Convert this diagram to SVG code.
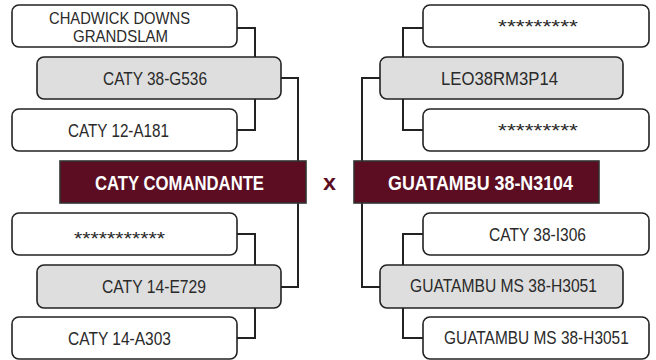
<svg xmlns="http://www.w3.org/2000/svg" width="656" height="360" viewBox="0 0 656 360">
<style>
.w{fill:#ffffff;stroke:#222;stroke-width:1.6}
.g{fill:#dedede;stroke:#222;stroke-width:1.6}
.m{fill:#5c0d22;stroke:#333;stroke-width:1.6}
.t{font-family:"Liberation Sans",Arial,sans-serif;font-size:18px;fill:#2a2a2a}
.s{font-size:17px}
.b{font-family:"Liberation Sans",Arial,sans-serif;font-size:21px;font-weight:bold;fill:#ffffff}
.x{font-family:"Liberation Sans",Arial,sans-serif;font-size:22px;font-weight:bold;fill:#5c0d22}
.c{fill:none;stroke:#222;stroke-width:2}
</style>
<g id="connectors">
<path class="c" d="M237,28 H255 V57 M237,130 H255 V99 M281,78 H298 V161"/>
<path class="c" d="M237,234 H255 V265 M237,338 H255 V308 M281,287 H298 V203"/>
<path class="c" d="M423,28 H403 V57 M423,130 H403 V99 M380,78 H362 V161"/>
<path class="c" d="M423,234 H403 V265 M423,338 H403 V308 M380,287 H362 V203"/>
</g>
<g id="n-chadwick"><rect class="w" x="12" y="5" width="225" height="42" rx="7"/>
<text class="t s" x="49" y="24" textLength="141" lengthAdjust="spacingAndGlyphs">CHADWICK DOWNS</text>
<text class="t s" x="73" y="42" textLength="95" lengthAdjust="spacingAndGlyphs">GRANDSLAM</text></g>
<g id="n-g536"><rect class="g" x="37" y="57" width="244" height="42" rx="7"/>
<text class="t" x="103" y="85" textLength="104" lengthAdjust="spacingAndGlyphs">CATY 38-G536</text></g>
<g id="n-a181"><rect class="w" x="12" y="109" width="225" height="42" rx="7"/>
<text class="t" x="68" y="137" textLength="101" lengthAdjust="spacingAndGlyphs">CATY 12-A181</text></g>
<g id="n-comandante"><rect class="m" x="60" y="161" width="246" height="42"/>
<text class="b" x="95" y="190" textLength="169" lengthAdjust="spacingAndGlyphs">CATY COMANDANTE</text></g>
<g id="n-stars-l"><rect class="w" x="12" y="213" width="225" height="42" rx="7"/>
<text class="t" x="74" y="245" textLength="91" lengthAdjust="spacingAndGlyphs">***********</text></g>
<g id="n-e729"><rect class="g" x="37" y="265" width="244" height="43" rx="7"/>
<text class="t" x="102" y="293" textLength="104" lengthAdjust="spacingAndGlyphs">CATY 14-E729</text></g>
<g id="n-a303"><rect class="w" x="12" y="317" width="225" height="42" rx="7"/>
<text class="t" x="68" y="345" textLength="103" lengthAdjust="spacingAndGlyphs">CATY 14-A303</text></g>
<text class="x" x="323" y="190" textLength="13" lengthAdjust="spacingAndGlyphs">x</text>
<g id="n-stars-r1"><rect class="w" x="423" y="5" width="226" height="42" rx="7"/>
<text class="t" x="498" y="33" textLength="80" lengthAdjust="spacingAndGlyphs">*********</text></g>
<g id="n-leo"><rect class="g" x="380" y="57" width="243" height="42" rx="7"/>
<text class="t" x="441" y="85" textLength="117" lengthAdjust="spacingAndGlyphs">LEO38RM3P14</text></g>
<g id="n-stars-r2"><rect class="w" x="423" y="109" width="226" height="42" rx="7"/>
<text class="t" x="498" y="137" textLength="80" lengthAdjust="spacingAndGlyphs">*********</text></g>
<g id="n-n3104"><rect class="m" x="354" y="161" width="245" height="42"/>
<text class="b" x="388" y="190" textLength="185" lengthAdjust="spacingAndGlyphs">GUATAMBU 38-N3104</text></g>
<g id="n-i306"><rect class="w" x="423" y="213" width="226" height="42" rx="7"/>
<text class="t" x="489" y="241" textLength="97" lengthAdjust="spacingAndGlyphs">CATY 38-I306</text></g>
<g id="n-h3051a"><rect class="g" x="380" y="265" width="243" height="43" rx="7"/>
<text class="t" x="410" y="292" textLength="187" lengthAdjust="spacingAndGlyphs">GUATAMBU MS 38-H3051</text></g>
<g id="n-h3051b"><rect class="w" x="423" y="317" width="226" height="42" rx="7"/>
<text class="t" transform="translate(444,344) scale(0.858,1)" x="0" y="0">GUATAMBU MS 38-H3051</text></g>
</svg>
